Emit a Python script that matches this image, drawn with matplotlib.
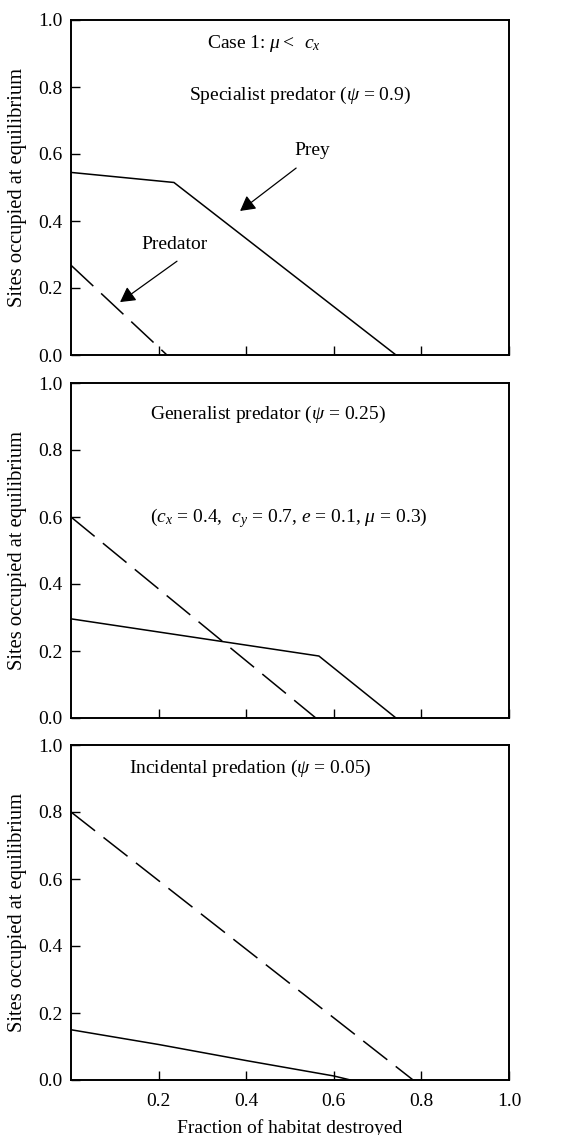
import matplotlib
matplotlib.use("Agg")
import matplotlib.pyplot as plt

plt.rcParams['font.family'] = ['Liberation Serif', 'DejaVu Serif']
plt.rcParams['mathtext.fontset'] = 'custom'
plt.rcParams['mathtext.rm'] = 'Liberation Serif'
plt.rcParams['mathtext.it'] = 'Liberation Serif:italic'
plt.rcParams['mathtext.bf'] = 'Liberation Serif:bold'

# ---- data ----
x_ticks = [0.2, 0.4, 0.6, 0.8, 1.0]
x_ticklabels = ["0.2", "0.4", "0.6", "0.8", "1.0"]
y_ticks = [0.0, 0.2, 0.4, 0.6, 0.8, 1.0]
y_ticklabels = ["0.0", "0.2", "0.4", "0.6", "0.8", "1.0"]

# Panel 1: specialist predator (psi = 0.9)
p1_prey_x = [0.0, 0.235, 0.742]
p1_prey_y = [0.545, 0.515, 0.0]
p1_pred_x = [0.0, 0.219]
p1_pred_y = [0.268, 0.0]

# Panel 2: generalist predator (psi = 0.25)
p2_prey_x = [0.0, 0.566, 0.742]
p2_prey_y = [0.296, 0.185, 0.0]
p2_pred_x = [0.0, 0.559]
p2_pred_y = [0.600, 0.0]

# Panel 3: incidental predation (psi = 0.05)
p3_prey_x = [0.0, 0.2, 0.4, 0.6, 0.638]
p3_prey_y = [0.150, 0.106, 0.058, 0.012, 0.0]
p3_pred_x = [0.0, 0.781]
p3_pred_y = [0.800, 0.0]

ylabel = "Sites occupied at equilibrium"
xlabel = "Fraction of habitat destroyed"

FS = 14
fig = plt.figure(figsize=(5.82, 11.35), dpi=100)

ax_left = 71 / 582
ax_w = 438 / 582
ax_h = 335 / 1135
bottoms = [1 - 355 / 1135, 1 - 718 / 1135, 1 - 1080 / 1135]

axes = [fig.add_axes([ax_left, b, ax_w, ax_h]) for b in bottoms]

panels = [
    (p1_prey_x, p1_prey_y, p1_pred_x, p1_pred_y),
    (p2_prey_x, p2_prey_y, p2_pred_x, p2_pred_y),
    (p3_prey_x, p3_prey_y, p3_pred_x, p3_pred_y),
]

for i, (ax, (px, py, qx, qy)) in enumerate(zip(axes, panels)):
    ax.plot(px, py, color='black', lw=1.1, solid_joinstyle='miter')
    ax.plot(qx, qy, color='black', lw=1.1, dashes=(20, 7))
    ax.set_xlim(0, 1)
    ax.set_ylim(0, 1)
    ax.set_yticks(y_ticks)
    ax.set_yticklabels(y_ticklabels)
    ax.set_xticks(x_ticks)
    if i == 2:
        ax.set_xticklabels(x_ticklabels)
        ax.set_xlabel(xlabel, fontsize=FS, labelpad=7)
    else:
        ax.set_xticklabels([])
    ax.set_ylabel(ylabel, fontsize=14.8, labelpad=8)
    ax.tick_params(direction='in', length=6.5, width=1.0, labelsize=FS,
                   top=False, right=False, pad=6)
    ax.tick_params(axis='x', pad=9)
    for s in ax.spines.values():
        s.set_linewidth(1.4)

# Panel 1 annotations
ax = axes[0]
ax.text(0.44, 0.93, r'Case 1: $\mu <\;\; c_x$', fontsize=FS, ha='center', va='center')
ax.text(0.523, 0.774, r'Specialist predator ($\psi$ = 0.9)', fontsize=FS, ha='center', va='center')
ax.text(0.55, 0.61, 'Prey', fontsize=FS, ha='center', va='center')
ax.text(0.237, 0.331, 'Predator', fontsize=FS, ha='center', va='center')
ap = dict(arrowstyle='-|>,head_length=0.9,head_width=0.5', lw=0.9, color='black',
          shrinkA=0, shrinkB=0)
ax.annotate('', xy=(0.386, 0.43), xytext=(0.514, 0.558), arrowprops=ap)
ax.annotate('', xy=(0.112, 0.158), xytext=(0.242, 0.28), arrowprops=ap)

# Panel 2 annotations
ax = axes[1]
ax.text(0.45, 0.907, r'Generalist predator ($\psi$ = 0.25)', fontsize=FS, ha='center', va='center')
ax.text(0.498, 0.597, r'($c_x$ = 0.4,  $c_y$ = 0.7, $e$ = 0.1, $\mu$ = 0.3)', fontsize=FS,
        ha='center', va='center')

# Panel 3 annotations
ax = axes[2]
ax.text(0.41, 0.93, r'Incidental predation ($\psi$ = 0.05)', fontsize=FS, ha='center', va='center')

fig.savefig('out.png', dpi=100)
